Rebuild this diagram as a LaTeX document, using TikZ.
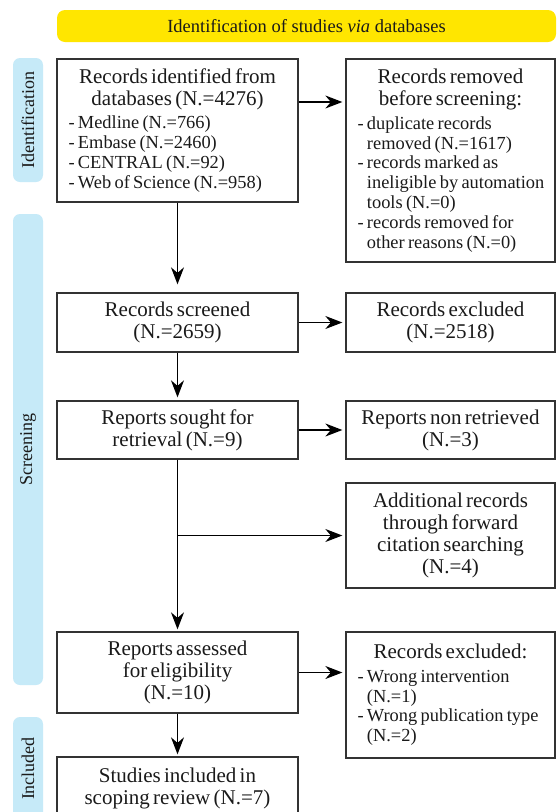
\documentclass[tikz,border=0pt]{standalone}
\usepackage{fontspec}
\setmainfont{Liberation Serif}
\usepackage{graphicx}
\usetikzlibrary{arrows.meta}
\definecolor{banyellow}{HTML}{FFE600}
\definecolor{tabblue}{HTML}{C6EAF8}
\definecolor{ink}{HTML}{1A1A1A}
\definecolor{edge}{HTML}{333333}
\newcommand\tf{\fontsize{21}{22}\selectfont}
\newcommand\lf{\fontsize{18.4}{19.8}\selectfont}
\newcommand\T[1]{{\centering\tf #1\par}}
\newcommand\Li[1]{\par\noindent\mbox{-\ #1}}
\newcommand\Lc[1]{\par\noindent\mbox{\hphantom{-\ }#1}}
\newcommand\Lst[1]{{\lf\raggedright #1\par}}
\hfuzz=60pt
\hbadness=10000
\begin{document}
\begin{tikzpicture}[x=1pt,y=-1pt,
  box/.style={draw=edge, line width=1.3pt, inner xsep=11.5pt, inner ysep=0pt, text=ink},
  lbox/.style={box, minimum width=241pt, text width=218pt},
  rbox/.style={box, minimum width=209pt, text width=186pt},
  tab/.style={fill=tabblue, rounded corners=7pt, minimum width=30pt, inner sep=0pt,
    font=\fontsize{18}{18}\selectfont, text=ink},
  tip/.tip={Stealth[length=17pt,width=13pt,inset=5.5pt]},
  arr/.style={draw=black, fill=black, line width=1.4pt, -tip, shorten >=3pt}]
\useasboundingbox (0,0) rectangle (557,812);
\clip (0,0) rectangle (557,812);
\fill[white] (0,0) rectangle (557,812);

% banner
\node[fill=banyellow, rounded corners=8pt, minimum width=499pt, minimum height=32pt,
  inner sep=0pt, font=\fontsize{18.5}{20}\selectfont, text=ink] (ban) at (306.5,26)
  {Identification of studies \textit{via} databases};

% side tabs
\node[tab, minimum height=124pt] (tI) at (28,120) {\rotatebox{90}{Identification}};
\node[tab, minimum height=471pt] (tS) at (28,449.5) {\rotatebox{90}{Screening}};
\node[tab, minimum height=103pt] (tN) at (28,768.5) {\rotatebox{90}{Included}};

% boxes
\node[lbox, minimum height=143pt] (b1) at (177.5,130.5)
  {\T{Records identified from\\databases (N.=4276)}\vspace{3.5pt}%
   \Lst{\Li{Medline (N.=766)}\Li{Embase (N.=2460)}\Li{CENTRAL (N.=92)}\Li{Web of Science (N.=958)}}};
\node[rbox, minimum height=203pt] (b2) at (450.5,160.5)
  {\T{Records removed\\before screening:}\vspace{4pt}%
   \Lst{\Li{duplicate records}\Lc{removed (N.=1617)}\Li{records marked as}\Lc{ineligible by automation}\Lc{tools (N.=0)}\Li{records removed for}\Lc{other reasons (N.=0)}}};
\node[lbox, minimum height=59pt] (b3) at (177.5,322.5) {\T{Records screened\\(N.=2659)}};
\node[rbox, minimum height=59pt] (b4) at (450.5,322.5) {\T{Records excluded\\(N.=2518)}};
\node[lbox, minimum height=58pt] (b5) at (177.5,430) {\T{Reports sought for\\retrieval (N.=9)}};
\node[rbox, minimum height=58pt] (b6) at (450.5,430) {\T{Reports non retrieved\\(N.=3)}};
\node[rbox, minimum height=105pt] (b7) at (450.5,535.5) {\T{Additional records\\through forward\\citation searching\\(N.=4)}};
\node[lbox, minimum height=81pt] (b8) at (177.5,672.5) {\T{Reports assessed\\for eligibility\\(N.=10)}};
\node[rbox, minimum height=126pt] (b9) at (450.5,695)
  {\T{Records excluded:}\vspace{3.5pt}%
   \Lst{\Li{Wrong intervention}\Lc{(N.=1)}\Li{Wrong publication type}\Lc{(N.=2)}}};
\node[lbox, minimum height=63pt] (b10) at (177.5,788.5) {\T{Studies included in\\scoping review (N.=7)}};

% connectors
\coordinate (br) at (b5.south |- b7.west);
\draw[arr] ([yshift=28.5pt]b1.east) -- ([yshift=28.5pt]b1.east -| b2.west);
\draw[arr, shorten >=8pt] (b1.south) -- (b3.north);
\draw[arr] (b3.east) -- (b4.west);
\draw[arr] (b3.south) -- (b5.north);
\draw[arr] (b5.east) -- (b6.west);
\draw[arr, shorten >=2pt] (b5.south) -- (b8.north);
\draw[arr] (br) -- (b7.west);
\draw[arr] (b8.east) -- (b8.east -| b9.west);
\draw[arr, shorten >=2pt] (b8.south) -- (b10.north);
\end{tikzpicture}
\end{document}
